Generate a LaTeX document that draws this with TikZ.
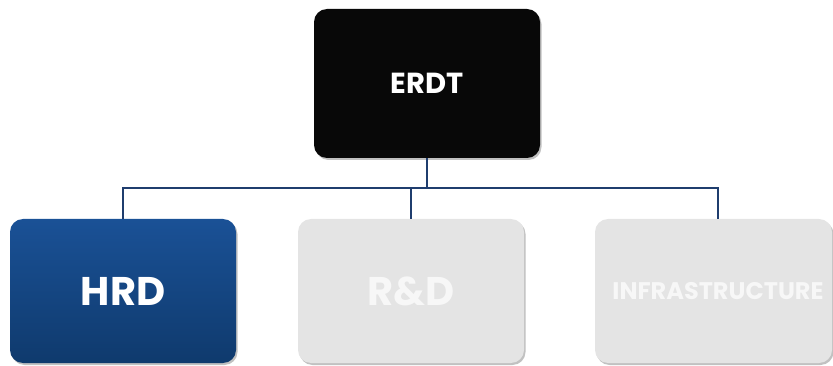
\documentclass[tikz,border=0pt]{standalone}
\usepackage{fontspec}
\setmainfont{Poppins}
\usetikzlibrary{shadows,calc}
\definecolor{linec}{HTML}{1F3D6E}
\definecolor{hrdtop}{HTML}{1A5196}
\definecolor{hrdbot}{HTML}{0F3A6D}
\definecolor{boxgrey}{HTML}{E4E4E4}
\definecolor{txtgrey}{HTML}{F7F7F7}
\tikzset{
  orgbox/.style={rounded corners=13pt, minimum width=226pt, minimum height=144pt,
    inner sep=0pt, font=\bfseries,
    drop shadow={shadow xshift=1.5pt, shadow yshift=-2pt, opacity=0.35, fill=black!70}},
  link/.style={draw=linec, line width=2.4pt}
}
\begin{document}
\begin{tikzpicture}[x=1pt,y=-1pt]
\useasboundingbox (0,0) rectangle (833,366);
\node[orgbox, fill=black!97, minimum height=149pt, text=white] (erdt) at (427,83.5) {\fontsize{29}{30}\selectfont ERDT};
\node[orgbox, shading=axis, top color=hrdtop, bottom color=hrdbot, text=white] (hrd) at (123,291) {\fontsize{40}{42}\selectfont HRD};
\node[orgbox, fill=boxgrey, text=txtgrey] (rd) at (411,291) {\fontsize{40}{42}\selectfont R\&D};
\node[orgbox, fill=boxgrey, text=txtgrey, minimum width=237pt] (infra) at (713.5,291) {};
\node[text=txtgrey, font=\bfseries\fontsize{24}{26}\selectfont, inner sep=0pt] (infratxt) at (718,291) {INFRASTRUCTURE};
\coordinate (hub) at ($(erdt.south)+(0,30)$);
\draw[link] (erdt.south) -- (hub);
\draw[link] (hub) -| (hrd.north);
\draw[link] (hub) -| ([xshift=4.5pt]infra.north);
\draw[link] ([xshift=-16pt]hub) -- ([xshift=-16pt]hub |- rd.north);
\end{tikzpicture}
\end{document}
